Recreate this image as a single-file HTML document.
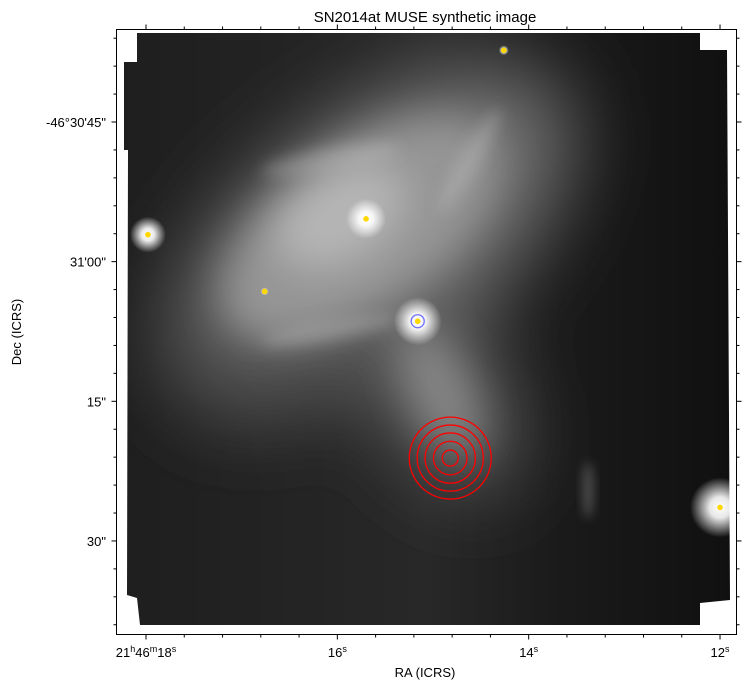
<!DOCTYPE html>
<html><head><meta charset="utf-8"><style>
html,body{margin:0;padding:0;background:#fff;width:745px;height:689px;overflow:hidden}
text{font-family:"Liberation Sans","DejaVu Sans",sans-serif;fill:#000}
</style></head><body>
<svg id="chart" width="745" height="689" viewBox="0 0 745 689" xmlns="http://www.w3.org/2000/svg">
<defs>
<filter id="b20" x="-50%" y="-50%" width="200%" height="200%"><feGaussianBlur stdDeviation="20"/></filter>
<filter id="b40" x="-50%" y="-50%" width="200%" height="200%"><feGaussianBlur stdDeviation="40"/></filter>
<filter id="b8" x="-50%" y="-50%" width="200%" height="200%"><feGaussianBlur stdDeviation="7"/></filter>
<filter id="b5" x="-50%" y="-50%" width="200%" height="200%"><feGaussianBlur stdDeviation="5"/></filter>
<radialGradient id="star"><stop offset="0" stop-color="#fff"/><stop offset="0.35" stop-color="#fff" stop-opacity="0.9"/><stop offset="1" stop-color="#fff" stop-opacity="0"/></radialGradient>
<linearGradient id="bg" x1="0" y1="0" x2="1" y2="0"><stop offset="0" stop-color="#1e1e1e"/><stop offset="0.5" stop-color="#282828"/><stop offset="0.72" stop-color="#1a1a1a"/><stop offset="1" stop-color="#101010"/></linearGradient>
<clipPath id="imgclip"><path d="M137,33 L700,33 L700,50 L727,50 L730,600 L700,603 L700,625 L140,625 L137,598 L127,595 L128,150 L124,150 L124,62 L137,62 Z"/></clipPath>
</defs>
<g id="image" clip-path="url(#imgclip)">
<rect x="116" y="29" width="621" height="606" fill="url(#bg)"/>
<g filter="url(#b40)">
<ellipse cx="370" cy="240" rx="240" ry="120" transform="rotate(-38 370 240)" fill="#707070"/>
<ellipse cx="440" cy="390" rx="110" ry="60" transform="rotate(60 440 390)" fill="#606060"/>
<ellipse cx="300" cy="340" rx="130" ry="70" transform="rotate(-20 300 340)" fill="#555"/>
</g>
<g filter="url(#b20)">
<ellipse cx="360" cy="230" rx="160" ry="80" transform="rotate(-35 360 230)" fill="#959595"/>
<ellipse cx="340" cy="215" rx="70" ry="45" transform="rotate(-30 340 215)" fill="#b5b5b5"/>
<ellipse cx="440" cy="390" rx="70" ry="30" transform="rotate(65 440 390)" fill="#858585"/>
</g>
<g filter="url(#b5)">
<ellipse cx="588" cy="490" rx="6" ry="28" fill="#484848"/>
</g>
<g filter="url(#b8)" fill="#c8c8c8" fill-opacity="0.3">
<ellipse cx="330" cy="160" rx="70" ry="12" transform="rotate(-10 330 160)"/>
<ellipse cx="330" cy="330" rx="70" ry="10" transform="rotate(-10 330 330)"/>
<ellipse cx="470" cy="160" rx="60" ry="10" transform="rotate(-60 470 160)"/>
</g>
</g>
<g id="stars"></g>
<g id="marks"></g>
<rect x="116.5" y="29.5" width="620" height="605" fill="none" stroke="#000" stroke-width="1"/>
<g id="axes"></g>
<text x="425" y="22" text-anchor="middle" font-size="15">SN2014at MUSE synthetic image</text>
<text x="425" y="677" text-anchor="middle" font-size="13">RA (ICRS)</text>
<text transform="translate(21 332) rotate(-90)" text-anchor="middle" font-size="13">Dec (ICRS)</text>
</svg>
<script>
const raTicks=[18,16,14,12];
const raTickLabels=[["21","h","46","m","18","s"],["16","s"],["14","s"],["12","s"]];
const decTicks=[45,60,75,90];
const decTickLabels=["-46°30'45\"","31'00\"","15\"","30\""];
const srcRA=[17.98,15.70,15.16,12.00,14.26,16.76];
const srcDec=[57.1,55.4,66.4,86.4,37.3,63.2];
const srcGlow=[18,20,24,30,5,4];
const snRA=[14.82];
const snDec=[81.1];
const ringRadii=[0.86,1.8,2.7,3.55,4.4];
const hostRA=[15.16];
const hostDec=[66.4];
const hostRadius=[0.7];
const NS="http://www.w3.org/2000/svg";
const xS=s=>146+(18-s)*95.67;
const yS=d=>122+(d-45)*9.31;
const rS=a=>a*9.31;
function mk(tag,attrs,parent){const e=document.createElementNS(NS,tag);for(const k in attrs)e.setAttribute(k,attrs[k]);parent.appendChild(e);return e;}
const stars=document.getElementById('stars'),marks=document.getElementById('marks'),axes=document.getElementById('axes');
srcRA.forEach((r,i)=>{
 const g=mk('circle',{cx:xS(r),cy:yS(srcDec[i]),r:srcGlow[i],fill:'url(#star)'},stars);
 
 
 const d=mk('circle',{cx:xS(r),cy:yS(srcDec[i]),r:2.8,fill:'#ffd700'},marks);
 
 
});
hostRA.forEach((r,i)=>{
 const c=mk('circle',{cx:xS(r),cy:yS(hostDec[i]),r:rS(hostRadius[i]),fill:'none',stroke:'#7070ff','stroke-width':1.3},marks);
 
 
});
ringRadii.forEach(rr=>{
 const c=mk('circle',{cx:xS(snRA[0]),cy:yS(snDec[0]),r:rS(rr),fill:'none',stroke:'#ff0000','stroke-width':1.3},marks);
 
 
});
const L=116.5,R=736.5,T=29.5,B=634.5;
function tick(x1,y1,x2,y2,name){const t=mk('line',{x1,y1,x2,y2,stroke:'#000','stroke-width':1},axes);}
for(let s=18.4;s>=11.6;s-=0.4){const x=xS(s);if(x<L||x>R)continue;const maj=raTicks.some(v=>Math.abs(v-s)<0.01);const len=maj?5:3;tick(x,B,x,B+len,'x-tick');tick(x,T,x,T-len,'x-tick-top');}
for(let d=33;d<=102;d+=3){const y=yS(d);if(y<T||y>B)continue;const maj=decTicks.includes(d);const len=maj?5:3;tick(L,y,L-len,y,'y-tick');tick(R,y,R+len,y,'y-tick-right');}
raTicks.forEach((s,i)=>{
 const t=mk('text',{x:xS(s),y:657,'text-anchor':'middle','font-size':13},axes);
 
 
 raTickLabels[i].forEach((p,j)=>{const ts=mk('tspan',{},t);if(j%2==1){ts.setAttribute('font-size',9);ts.setAttribute('dy',-5);}else if(j>0){ts.setAttribute('dy',5);}ts.textContent=p;});
});
decTicks.forEach((d,i)=>{
 const t=mk('text',{x:106,y:yS(d)+5,'text-anchor':'end','font-size':13},axes);
 
 
 t.textContent=decTickLabels[i];
});
</script>
</body></html>
